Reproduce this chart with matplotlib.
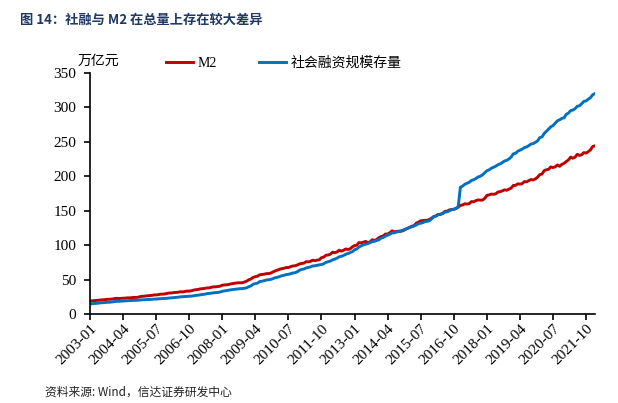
import numpy as np
import matplotlib
matplotlib.use("Agg")
import matplotlib.pyplot as plt

plt.rcParams['font.family'] = ['Liberation Serif', 'Noto Sans CJK SC', 'DejaVu Sans']

# monthly data, 2003-01 .. 2022-02, 万亿元
m2 = [
    18.8, 19.0, 19.4, 19.6, 19.9, 20.4, 20.4, 20.8, 21.3, 21.3, 21.6, 22.1,
    22.7, 22.4, 22.6, 22.7, 23.0, 23.4, 23.3, 23.6, 24.0, 23.9, 24.4, 25.3,
    25.7, 25.9, 26.4, 26.6, 26.9, 27.6, 27.6, 28.0, 28.7, 28.7, 29.0, 29.9,
    30.4, 30.5, 31.0, 31.3, 31.5, 32.2, 32.0, 32.5, 33.2, 33.1, 33.7, 34.6,
    35.2, 35.5, 36.4, 36.7, 37.0, 37.8, 37.8, 38.7, 39.3, 39.4, 39.8, 40.3,
    41.7, 42.1, 42.3, 42.9, 43.6, 44.3, 44.7, 45.2, 45.3, 45.3, 46.3, 47.5,
    49.6, 50.7, 53.1, 54.1, 54.8, 56.9, 57.3, 57.7, 58.5, 58.6, 59.4, 61.0,
    62.5, 63.6, 64.9, 65.6, 66.4, 67.4, 67.4, 68.7, 69.6, 69.9, 71.0, 72.6,
    73.3, 73.7, 75.8, 75.7, 76.3, 78.1, 77.3, 78.1, 78.7, 81.7, 82.5, 85.2,
    85.6, 86.7, 89.6, 88.9, 90.0, 92.5, 91.2, 92.5, 94.4, 93.6, 94.5, 97.4,
    99.2, 99.9, 103.6, 103.3, 104.2, 105.4, 103.6, 104.5, 107.7, 107.0, 107.9, 110.7,
    112.4, 113.2, 116.1, 116.0, 117.9, 120.7, 119.4, 119.7, 120.2, 119.9, 120.9, 122.8,
    124.3, 125.7, 127.5, 128.1, 131.9, 133.3, 135.2, 135.7, 135.9, 136.1, 137.4, 139.2,
    141.6, 142.5, 144.6, 144.5, 146.2, 149.1, 149.2, 151.1, 151.6, 151.9, 153.0, 155.0,
    157.6, 158.3, 160.0, 159.6, 160.1, 163.1, 162.9, 164.5, 165.6, 165.3, 165.3, 167.7,
    172.1, 172.9, 174.0, 173.8, 174.3, 177.0, 177.6, 178.7, 180.2, 179.6, 181.3, 182.7,
    186.6, 186.7, 188.9, 188.6, 189.1, 192.1, 191.9, 193.5, 195.2, 194.6, 196.1, 198.6,
    202.3, 203.1, 208.1, 209.4, 210.0, 213.5, 212.6, 213.7, 216.4, 214.4, 217.2, 218.7,
    221.3, 223.6, 227.7, 226.2, 227.6, 231.8, 230.2, 231.2, 234.3, 233.6, 235.6, 238.3,
    243.1, 244.1,
]

tsf = [
    14.6, 14.8, 15.2, 15.4, 15.7, 16.3, 16.3, 16.6, 17.0, 17.0, 17.4, 17.9,
    18.3, 18.3, 18.6, 18.8, 19.0, 19.3, 19.3, 19.5, 19.8, 19.8, 20.0, 20.3,
    20.6, 20.6, 20.9, 21.0, 21.2, 21.6, 21.6, 21.9, 22.2, 22.3, 22.5, 22.8,
    23.2, 23.4, 23.8, 24.1, 24.3, 24.8, 25.0, 25.2, 25.5, 25.6, 25.9, 26.3,
    27.0, 27.2, 27.8, 28.3, 28.6, 29.4, 29.7, 30.1, 30.7, 30.9, 31.2, 31.8,
    32.9, 33.4, 34.0, 34.6, 35.1, 35.5, 35.9, 36.3, 36.7, 36.8, 37.2, 37.9,
    39.5, 40.7, 43.2, 43.9, 44.7, 47.0, 47.5, 48.3, 49.3, 49.6, 50.2, 51.2,
    52.6, 53.2, 54.3, 55.4, 56.1, 57.2, 57.5, 58.4, 59.4, 59.9, 61.2, 63.4,
    64.7, 65.2, 66.7, 67.6, 68.3, 69.6, 69.9, 70.6, 71.3, 71.7, 72.8, 74.8,
    75.8, 76.8, 78.6, 79.5, 81.0, 82.9, 83.6, 84.9, 86.6, 87.7, 89.0, 90.4,
    93.2, 94.4, 97.1, 98.9, 100.2, 101.3, 102.0, 103.5, 104.9, 105.5, 106.7, 107.5,
    110.1, 111.1, 113.0, 114.3, 115.7, 117.8, 117.8, 118.8, 119.9, 120.6, 121.8, 122.9,
    124.4, 125.6, 126.6, 127.8, 129.1, 131.0, 131.7, 132.7, 134.0, 134.4, 135.5, 138.3,
    141.2, 142.0, 144.3, 145.0, 145.7, 147.9, 148.3, 149.8, 151.4, 152.1, 153.6, 155.4,
    184.0, 185.6, 188.3, 189.8, 191.2, 193.8, 194.8, 196.6, 198.9, 199.9, 201.9, 204.9,
    207.9, 209.2, 211.5, 213.0, 214.5, 216.6, 217.9, 219.8, 222.1, 223.0, 225.0, 227.8,
    232.5, 233.3, 236.3, 237.8, 239.3, 241.5, 242.5, 244.4, 246.7, 247.5, 249.2, 251.3,
    256.2, 257.0, 262.1, 265.2, 268.4, 271.8, 273.5, 277.1, 280.5, 281.9, 284.0, 284.8,
    289.9, 291.6, 295.3, 296.1, 298.0, 301.6, 302.3, 305.3, 308.6, 309.4, 311.9, 314.1,
    318.3, 320.0,
]

tick_labels = ['2003-01', '2004-04', '2005-07', '2006-10', '2008-01', '2009-04',
               '2010-07', '2011-10', '2013-01', '2014-04', '2015-07', '2016-10',
               '2018-01', '2019-04', '2020-07', '2021-10']

x = np.arange(len(m2))

fig = plt.figure(figsize=(6.18, 4.03), dpi=100)
ax = fig.add_axes([0.1456, 0.221, 0.817, 0.598])

ax.plot(x, m2, color='#C00000', lw=2.1, label='M2')
ax.plot(x, tsf, color='#0070C0', lw=2.1, label='社会融资规模存量')

ax.set_xlim(0, len(m2) - 1)
ax.set_ylim(0, 350)
ax.set_yticks(range(0, 351, 50))
ax.set_xticks(np.arange(0, len(m2), 15))
ax.set_xticklabels(tick_labels, rotation=45, ha='right', rotation_mode='anchor')

for s in ['top', 'right']:
    ax.spines[s].set_visible(False)
for s in ['left', 'bottom']:
    ax.spines[s].set_color('black')
    ax.spines[s].set_linewidth(1.2)
ax.tick_params(axis='both', direction='out', length=4, width=1.2, labelsize=11,
               colors='black')
ax.tick_params(axis='y', pad=6)
ax.tick_params(axis='x', pad=2)

ax.legend(loc='upper left', bbox_to_anchor=(0.125, 1.12), ncol=2, frameon=False,
          prop={'family': ['Liberation Serif', 'Noto Sans CJK SC'], 'size': 10},
          handlelength=2.0, columnspacing=3.0, handletextpad=0.3)

fig.text(0.125, 0.838, '万亿元', fontsize=10, family=['Noto Sans CJK SC'])
fig.text(0.033, 0.94, '图 14：社融与 M2 在总量上存在较大差异', fontsize=9.5,
         fontweight='bold', color='#1F3864', family=['Noto Sans CJK SC', 'DejaVu Sans'])
fig.text(0.073, 0.018, '资料来源: Wind，信达证券研发中心', fontsize=8.5,
         style='italic', color='#222222', family=['Noto Sans CJK SC', 'DejaVu Sans'])

fig.savefig('out.png', dpi=100)
